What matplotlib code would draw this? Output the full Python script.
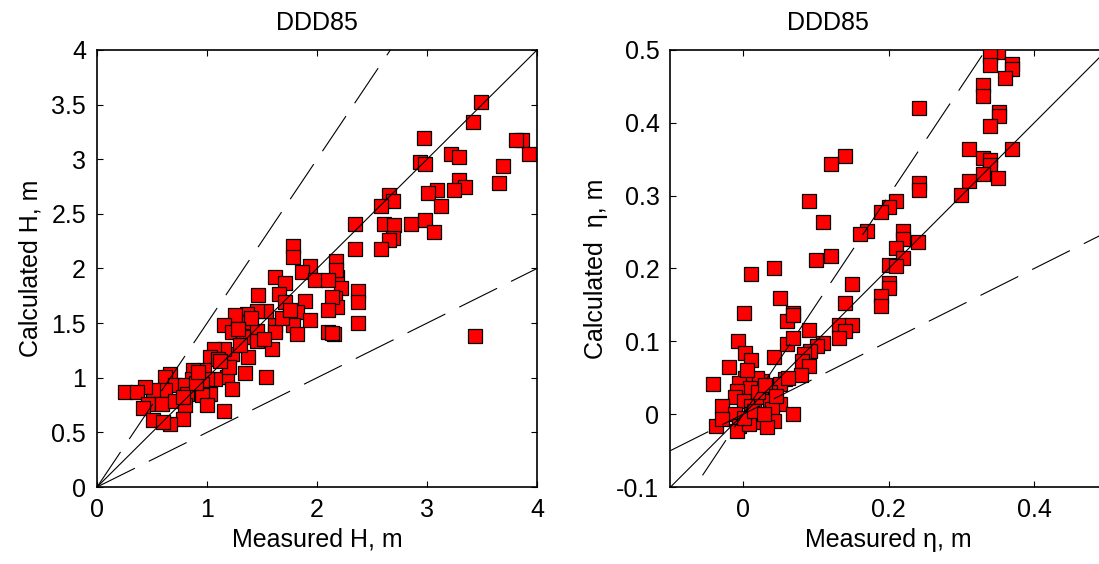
import numpy as np
import matplotlib
matplotlib.use("Agg")
import matplotlib.pyplot as plt

plt.rcParams['font.family'] = ['Liberation Sans', 'DejaVu Sans']

# wave height, measured vs calculated (m)
h_meas = [3.49, 3.415, 2.975, 3.86, 3.81, 3.93, 3.215, 3.29, 2.94, 2.98, 3.69, 3.65,
          3.29, 3.345, 3.245, 3.09, 3.01, 3.13, 2.655, 2.69, 2.58, 2.345, 2.61, 2.70,
          2.855, 2.98, 3.06, 2.69, 2.655, 2.345, 2.58, 3.44, 2.375, 2.375, 2.375, 2.17,
          2.18, 2.22, 2.16, 2.18, 2.15,
          1.785, 1.785, 2.17, 1.94, 1.86, 1.62, 1.71, 1.98, 2.10, 2.14, 1.46, 1.65,
          1.71, 1.89, 1.815, 1.94, 1.785, 2.10, 2.10, 2.14, 1.815, 1.62, 1.62, 1.535,
          1.45, 1.36, 1.255, 1.385, 1.15, 1.225, 1.45, 1.33, 1.45, 1.59, 1.375, 1.225,
          1.15, 1.06, 1.03, 1.10, 1.345, 1.535, 1.18, 1.07, 0.97, 0.875, 0.86, 1.00,
          0.95, 1.225, 1.03, 1.15, 0.665, 0.62, 0.71, 0.80, 0.62, 0.505, 0.435, 0.255,
          0.36, 0.815, 0.95, 0.465, 0.59, 0.71, 0.80, 1.00, 0.42, 0.785, 0.51, 0.665,
          0.60, 1.30, 1.20, 1.12, 0.90, 0.78, 1.40, 1.52, 1.68, 1.75, 1.28, 0.92]
h_calc = [3.52, 3.34, 3.19, 3.18, 3.18, 3.05, 3.05, 3.02, 2.97, 2.955, 2.94, 2.78,
          2.81, 2.75, 2.72, 2.72, 2.69, 2.57, 2.675, 2.615, 2.57, 2.41, 2.41, 2.40,
          2.41, 2.44, 2.33, 2.28, 2.26, 2.18, 2.18, 1.385, 1.795, 1.695, 1.50, 2.07,
          1.92, 1.82, 1.73, 1.65, 1.40,
          2.205, 2.105, 1.99, 2.02, 1.97, 1.92, 1.87, 1.89, 1.89, 1.74, 1.76, 1.765,
          1.69, 1.70, 1.60, 1.53, 1.48, 1.62, 1.415, 1.405, 1.40, 1.48, 1.415, 1.61,
          1.61, 1.58, 1.57, 1.51, 1.48, 1.415, 1.43, 1.37, 1.34, 1.26, 1.19, 1.22,
          1.26, 1.26, 1.19, 1.17, 1.04, 1.01, 1.01, 0.99, 1.07, 1.07, 0.99, 0.99,
          0.945, 0.90, 0.855, 0.70, 1.035, 1.005, 0.93, 0.93, 0.885, 0.89, 0.915, 0.87,
          0.87, 0.85, 0.84, 0.76, 0.76, 0.79, 0.75, 0.75, 0.72, 0.625, 0.61, 0.58,
          0.595, 1.30, 1.10, 1.15, 0.95, 0.82, 1.55, 1.35, 1.55, 1.62, 1.45, 1.05]

# setup, measured vs calculated (m)
eta_meas = [0.350, 0.339, 0.339, 0.370, 0.370, 0.360, 0.330, 0.330, 0.241, 0.351, 0.351,
            0.339, 0.310, 0.369, 0.330, 0.339, 0.339, 0.350, 0.330, 0.310, 0.299, 0.140,
            0.121, 0.241, 0.241, 0.091, 0.210, 0.201, 0.189, 0.110, 0.170, 0.161, 0.220,
            0.220, 0.240, 0.210, 0.220, 0.201, 0.210, 0.201, 0.201, 0.189, 0.189, 0.100,
            0.121, 0.011, 0.042, 0.149, 0.051, 0.140, 0.001, 0.069,
            0.060, 0.069, -0.007, 0.002, 0.011, -0.019, -0.042, 0.042, 0.060, 0.069,
            0.091, 0.132, 0.149, 0.140, 0.131, 0.110, 0.101, 0.092, 0.083, 0.081, 0.090,
            0.079, 0.058, 0.051, 0.037, 0.026, 0.019, 0.003, -0.006, 0.009, -0.008,
            -0.011, -0.029, 0.001, 0.010, 0.024, 0.037, 0.051, 0.069, 0.040, -0.011,
            0.010, 0.019, 0.042, 0.033, -0.006, -0.038, -0.008, 0.008, 0.001, -0.029,
            0.020, 0.030, 0.015, 0.045, 0.062, 0.005, 0.028]
eta_calc = [0.497, 0.491, 0.479, 0.481, 0.474, 0.462, 0.452, 0.437, 0.420, 0.415, 0.409,
            0.395, 0.364, 0.364, 0.351, 0.349, 0.342, 0.324, 0.330, 0.320, 0.301, 0.355,
            0.343, 0.317, 0.308, 0.292, 0.292, 0.285, 0.278, 0.264, 0.252, 0.247, 0.251,
            0.240, 0.237, 0.228, 0.215, 0.205, 0.203, 0.180, 0.173, 0.162, 0.148, 0.212,
            0.217, 0.192, 0.201, 0.179, 0.159, 0.152, 0.139, 0.139,
            0.128, 0.136, 0.100, 0.084, 0.074, 0.065, 0.042, 0.079, 0.096, 0.105,
            0.115, 0.123, 0.123, 0.114, 0.105, 0.098, 0.094, 0.087, 0.082, 0.073, 0.066,
            0.054, 0.048, 0.041, 0.030, 0.046, 0.049, 0.049, 0.043, 0.036, 0.032,
            0.023, 0.011, 0.018, 0.011, 0.023, 0.018, 0.014, 0.000, 0.007, 0.000,
            0.000, -0.011, -0.009, -0.018, -0.016, -0.016, -0.023, -0.014, -0.005, -0.007,
            0.030, 0.040, 0.005, 0.025, 0.050, 0.060, 0.000]

FS = 18


def style_axes(ax):
    ax.tick_params(direction='in', top=True, right=True, length=4, width=0.8,
                   labelsize=FS, pad=8)
    for s in ax.spines.values():
        s.set_linewidth(1.2)


def ratio_lines(ax, x0, x1):
    # 1:1 line plus the 1.5 and 0.5 bounds
    xs = np.array([x0, x1])
    ax.plot(xs, xs, color='k', lw=0.8, zorder=5)
    ax.plot(xs, 1.5 * xs, color='k', lw=0.8, dashes=(38, 14), zorder=5)
    ax.plot(xs, 0.5 * xs, color='k', lw=0.8, dashes=(38, 14), zorder=5)


fig = plt.figure(figsize=(10.99, 5.64), dpi=100)

ax1 = fig.add_axes([0.0883, 0.1365, 0.4004, 0.7750])
ax1.plot(h_meas, h_calc, 's', ms=10.5, mfc='red', mec='black', mew=0.9, zorder=3)
ratio_lines(ax1, 0, 4)
ax1.set_xlim(0, 4)
ax1.set_ylim(0, 4)
ax1.set_xticks([0, 1, 2, 3, 4])
ax1.set_yticks(np.arange(0, 4.01, 0.5))
ax1.set_yticklabels(['0', '0.5', '1', '1.5', '2', '2.5', '3', '3.5', '4'])
ax1.set_xlabel('Measured H, m', fontsize=FS, labelpad=4)
ax1.set_ylabel('Calculated H, m', fontsize=FS, labelpad=6)
ax1.set_title('DDD85', fontsize=FS, pad=14)
style_axes(ax1)

ax2 = fig.add_axes([0.6101, 0.1365, 0.3972, 0.7750])
ax2.plot(eta_meas, eta_calc, 's', ms=10.5, mfc='red', mec='black', mew=0.9, zorder=3)
ratio_lines(ax2, -0.1, 0.5)
ax2.set_xlim(-0.1, 0.5)
ax2.set_ylim(-0.1, 0.5)
ax2.set_xticks([0, 0.2, 0.4])
ax2.set_xticklabels(['0', '0.2', '0.4'])
ax2.set_yticks(np.arange(-0.1, 0.51, 0.1))
ax2.set_yticklabels(['-0.1', '0', '0.1', '0.2', '0.3', '0.4', '0.5'])
ax2.set_xlabel('Measured \u03b7, m', fontsize=FS, labelpad=4)
ax2.set_ylabel('Calculated  \u03b7, m', fontsize=FS, labelpad=6)
ax2.set_title('DDD85', fontsize=FS, pad=14, x=0.36)
style_axes(ax2)

fig.savefig('out.png', dpi=100)
